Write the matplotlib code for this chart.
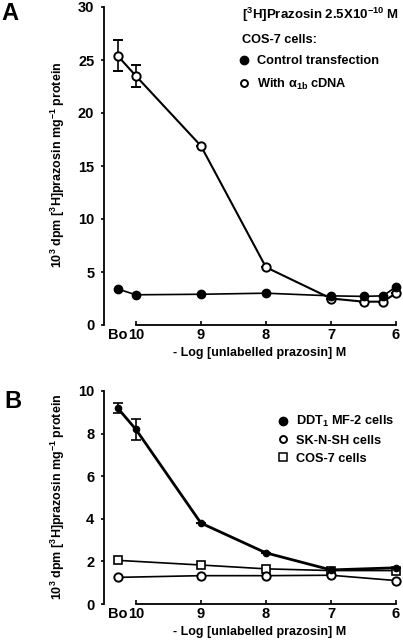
import numpy as np
import matplotlib.pyplot as plt
from matplotlib.lines import Line2D

plt.rcParams['font.family'] = ['Liberation Sans', 'DejaVu Sans']
plt.rcParams['font.weight'] = 'bold'
plt.rcParams['font.size'] = 9
plt.rcParams['mathtext.fontset'] = 'custom'
plt.rcParams['mathtext.bf'] = 'Liberation Sans:bold'
plt.rcParams['mathtext.rm'] = 'Liberation Sans:bold'
plt.rcParams['mathtext.it'] = 'Liberation Sans:bold'
plt.rcParams['mathtext.default'] = 'bf'

""" data read off the figure (x = -log[unlabelled prazosin] M, Bo = no competitor) """
BO = 10.28
xticks = [10, 9, 8, 7, 6]

# panel A : COS-7 cells
xa = [BO, 10, 9, 8, 7, 6.5, 6.2, 6]
a_control = [3.4, 2.85, 2.9, 3.0, 2.75, 2.7, 2.75, 3.6]
a_alpha1b = [25.4, 23.5, 16.9, 5.45, 2.5, 2.2, 2.2, 3.0]
a_alpha1b_err = [1.45, 1.0, 0, 0, 0, 0, 0, 0]

# panel B : cell lines
xb = [BO, 10, 9, 8, 7, 6]
b_ddt1 = [9.2, 8.2, 3.8, 2.4, 1.6, 1.7]
b_ddt1_err = [0.22, 0.5, 0, 0, 0, 0]
xb2 = [BO, 9, 8, 7, 6]
b_sknsh = [1.25, 1.33, 1.33, 1.35, 1.1]
b_cos7 = [2.05, 1.83, 1.65, 1.57, 1.57]

ylab = r'10$^{3}$ dpm [$^{3}$H]prazosin mg$^{-1}$ protein'
xlab = '- Log [unlabelled prazosin] M'

fig = plt.figure(figsize=(4.03, 6.4), dpi=100)
axA = fig.add_axes([104/403, 1-325/640, 293/403, 318/640])
axB = fig.add_axes([104/403, 1-604/640, 293/403, 213/640])


def style_axes(ax, ymax, ystep):
    ax.set_xlim(10.49, 5.985)
    ax.set_ylim(0, ymax)
    for s in ['top', 'right']:
        ax.spines[s].set_visible(False)
    ax.spines['left'].set_bounds(0, ymax)
    ax.spines['bottom'].set_bounds(10, 6)
    ax.spines['left'].set_linewidth(1.3)
    ax.spines['bottom'].set_linewidth(1.3)
    ax.set_xticks(xticks, [str(t) for t in xticks])
    ax.set_xticks([BO], ['Bo'], minor=True)
    ax.set_yticks(np.arange(0, ymax + 0.1, ystep))
    ax.tick_params(axis='x', which='major', direction='in', length=3, width=1.2, pad=2, labelsize=10.5)
    ax.tick_params(axis='x', which='minor', length=0, pad=2, labelsize=10.5)
    ax.tick_params(axis='y', direction='out', length=2, width=1.2, pad=5, labelsize=10.5)
    ax.set_xlabel(xlab, fontsize=9, fontweight='bold')
    ax.set_ylabel(ylab, fontsize=9, fontweight='bold')
    ax.yaxis.set_label_coords(-0.125, 0.505)


# panel A
axA.errorbar(xa, a_alpha1b, yerr=a_alpha1b_err, color='black', lw=1.5, marker='o',
             ms=6, mfc='white', mec='black', mew=1.4, capsize=3.5, elinewidth=1.2,
             capthick=1.2, clip_on=False, zorder=3)
axA.plot(xa, a_control, color='black', lw=1.2, marker='o', ms=6, mfc='black',
         mec='black', clip_on=False, zorder=4)
style_axes(axA, 30, 5)
axA.xaxis.set_label_coords(0.53, -0.068)

fig.text(242/403, 1-15/640, r'[$^{3}$H]Prazosin 2.5X10$^{-10}$ M', fontsize=9.5, va='center')
fig.text(242/403, 1-40/640, 'COS-7 cells:', fontsize=9.2, va='center')
hA = [Line2D([], [], ls='', marker='o', ms=6, mfc='black', mec='black'),
      Line2D([], [], ls='', marker='o', ms=5, mfc='white', mec='black', mew=1.4)]
axA.legend(hA, ['Control transfection', r'With $\alpha_{1b}$ cDNA'],
           loc='upper left', bbox_to_anchor=(239/403, 1-55/640), bbox_transform=fig.transFigure,
           frameon=False, handlelength=0.8, handletextpad=0.6, borderpad=0,
           borderaxespad=0, labelspacing=0.75, fontsize=9.2)

# panel B
axB.errorbar(xb, b_ddt1, yerr=b_ddt1_err, color='black', lw=2, marker='o', ms=4.5,
             mfc='black', mec='black', capsize=3.5, elinewidth=1.2, capthick=1.2,
             clip_on=False, zorder=4)
axB.plot(xb2, b_cos7, color='black', lw=1.2, marker='s', ms=6, mfc='white',
         mec='black', mew=1.2, clip_on=False, zorder=3)
axB.plot(xb2, b_sknsh, color='black', lw=1.2, marker='o', ms=6, mfc='white',
         mec='black', mew=1.4, clip_on=False, zorder=3)
style_axes(axB, 10, 2)
axB.xaxis.set_label_coords(0.53, -0.105)

hB = [Line2D([], [], ls='', marker='o', ms=6, mfc='black', mec='black'),
      Line2D([], [], ls='', marker='o', ms=5, mfc='white', mec='black', mew=1.4),
      Line2D([], [], ls='', marker='s', ms=5.5, mfc='white', mec='black', mew=1.1)]
axB.legend(hB, [r'DDT$_{1}$ MF-2 cells', 'SK-N-SH cells', 'COS-7 cells'],
           loc='upper left', bbox_to_anchor=(278/403, 1-414/640), bbox_transform=fig.transFigure,
           frameon=False, handlelength=0.8, handletextpad=0.6, borderpad=0,
           borderaxespad=0, labelspacing=0.45, fontsize=9.2)

fig.text(10/403, 1-13/640, 'A', fontsize=17, fontweight='bold', ha='center', va='center')
fig.text(13/403, 1-401/640, 'B', fontsize=17, fontweight='bold', ha='center', va='center')

fig.savefig('out.png', dpi=100)
